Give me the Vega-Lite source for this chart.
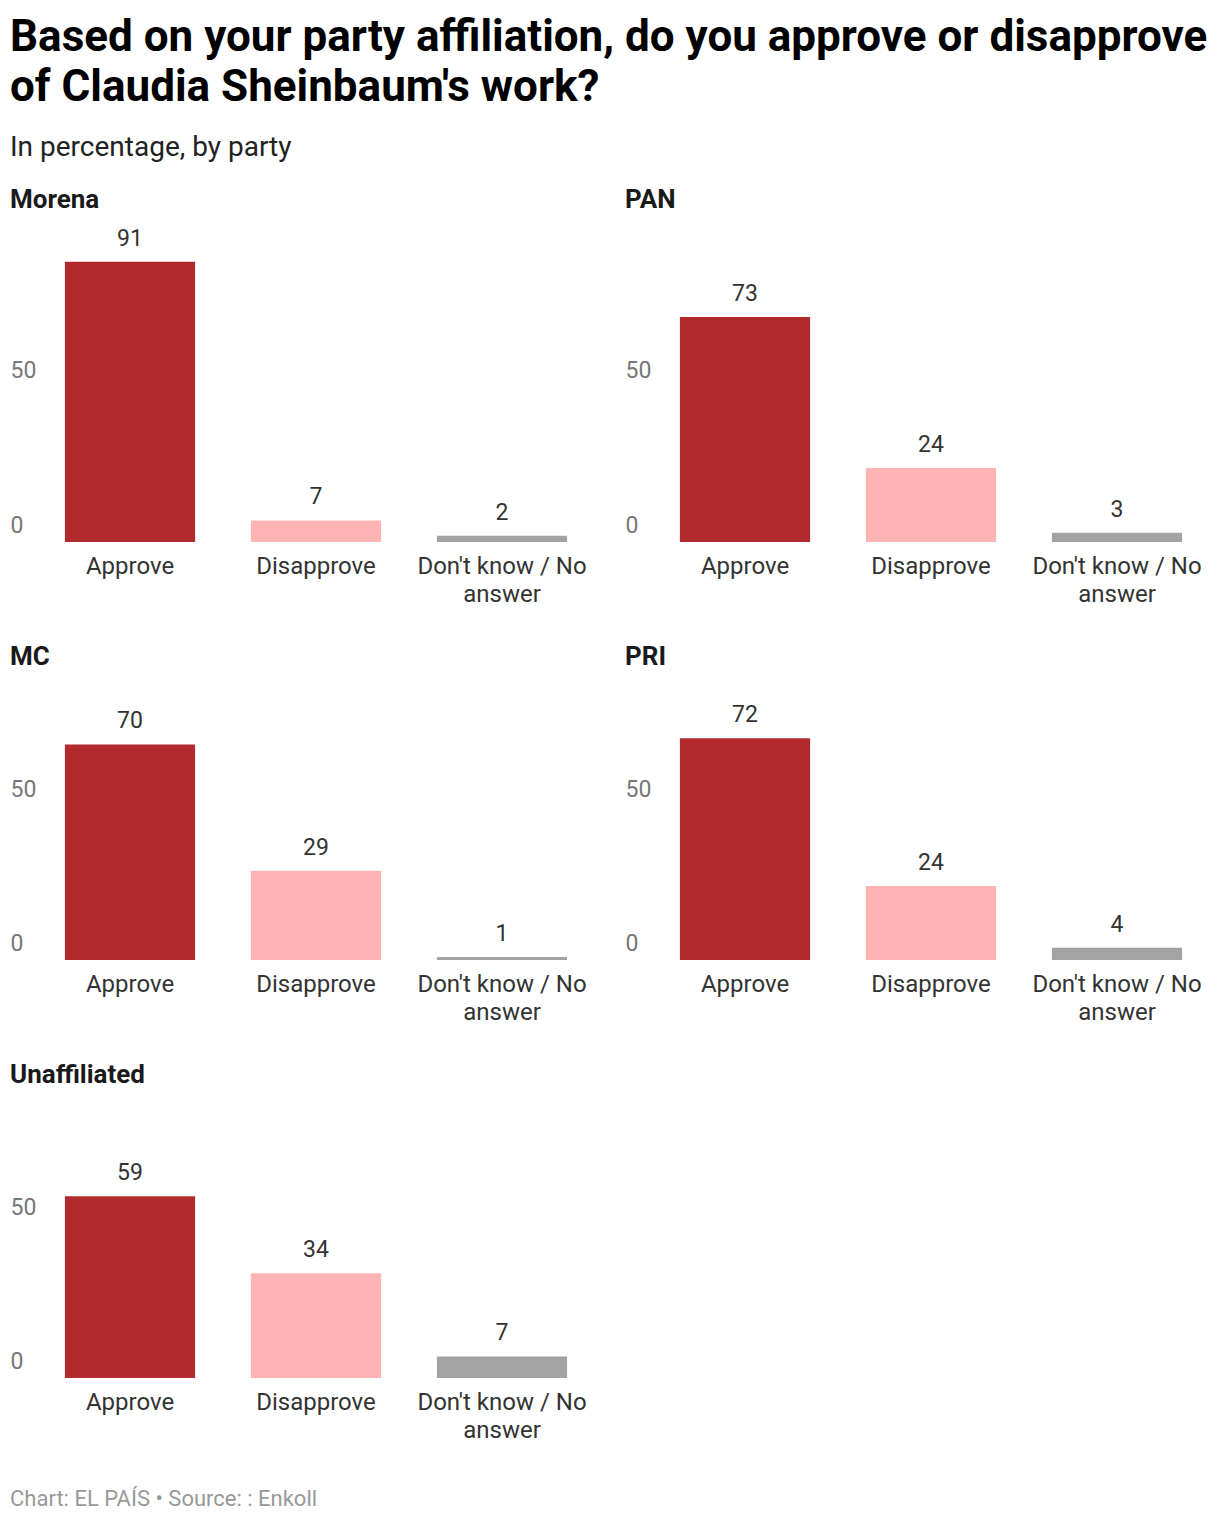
{
  "$schema": "https://vega.github.io/schema/vega-lite/v6.json",
  "padding": {"left": 10, "right": 10, "top": 16, "bottom": 10},
  "background": "white",
  "title": {
    "text": ["Based on your party affiliation, do you approve or disapprove", "of Claudia Sheinbaum's work?"],
    "subtitle": "In percentage, by party",
    "anchor": "start",
    "font": "Roboto",
    "fontSize": 44,
    "fontWeight": "bold",
    "lineHeight": 50,
    "color": "#000",
    "subtitleFont": "Roboto",
    "subtitleFontSize": 28,
    "subtitleColor": "#222",
    "subtitlePadding": 24,
    "offset": 25
  },
  "data": {
    "values": [
      {"party": "Morena", "answer": "Approve", "pct": 91},
      {"party": "Morena", "answer": "Disapprove", "pct": 7},
      {"party": "Morena", "answer": "Don't know / No answer", "pct": 2},
      {"party": "PAN", "answer": "Approve", "pct": 73},
      {"party": "PAN", "answer": "Disapprove", "pct": 24},
      {"party": "PAN", "answer": "Don't know / No answer", "pct": 3},
      {"party": "MC", "answer": "Approve", "pct": 70},
      {"party": "MC", "answer": "Disapprove", "pct": 29},
      {"party": "MC", "answer": "Don't know / No answer", "pct": 1},
      {"party": "PRI", "answer": "Approve", "pct": 72},
      {"party": "PRI", "answer": "Disapprove", "pct": 24},
      {"party": "PRI", "answer": "Don't know / No answer", "pct": 4},
      {"party": "Unaffiliated", "answer": "Approve", "pct": 59},
      {"party": "Unaffiliated", "answer": "Disapprove", "pct": 34},
      {"party": "Unaffiliated", "answer": "Don't know / No answer", "pct": 7}
    ]
  },
  "config": {
    "view": {"stroke": null},
    "font": "Roboto",
    "title": {"anchor": "start", "font": "Roboto", "fontSize": 26, "fontWeight": "bold", "color": "#1a1a1a", "offset": 20}
  },
  "spacing": 38,
  "vconcat": [
    {
      "spacing": 30,
      "hconcat": [
        {
          "title": {"text": "Morena", "offset": 8},
          "width": 585, "height": 321,
          "transform": [{"filter": "datum.party == 'Morena'"}],
          "encoding": {
            "x": {"field": "answer", "type": "nominal", "sort": null, "title": null,
              "scale": {"range": [27, 585], "paddingInner": 0.3, "paddingOuter": 0.15},
              "axis": {"domain": false, "ticks": false, "labelPadding": 12, "labelFontSize": 24, "labelColor": "#333", "labelAngle": 0, "labelLineHeight": 28, "labelLimit": 300,
                "labelExpr": "datum.label == 'Approve' || datum.label == 'Disapprove' ? datum.label : [\"Don't know / No\", 'answer']"}},
            "y": {"field": "pct", "type": "quantitative", "title": null,
              "scale": {"domain": [0, 104.2], "nice": false},
              "axis": {"values": [0, 50], "grid": false, "domain": false, "ticks": false, "tickSize": 0, "labelPadding": 0, "labelAlign": "left", "labelBaseline": "alphabetic", "labelOffset": -10, "labelFontSize": 23, "labelColor": "#777"}}
          },
          "layer": [
            {"data": {"values": [{}]}, "mark": {"type": "rule", "color": "#d9d9d9", "strokeWidth": 1}, "encoding": {"y": {"datum": 50}}},
            {"mark": {"type": "bar"}, "encoding": {"color": {"field": "answer", "type": "nominal", "legend": null, "scale": {"domain": ["Approve", "Disapprove", "Don't know / No answer"], "range": ["#b22a2e", "#ffb3b3", "#a3a3a3"]}}}},
            {"mark": {"type": "text", "baseline": "alphabetic", "dy": -16, "fontSize": 23, "color": "#333"}, "encoding": {"text": {"field": "pct", "type": "quantitative"}}},
            {"data": {"values": [{}]}, "mark": {"type": "rule", "color": "#1a1a1a", "strokeWidth": 2}, "encoding": {"y": {"datum": 0}}}
          ]
        },
        {
          "title": {"text": "PAN", "offset": 8},
          "width": 585, "height": 321,
          "transform": [{"filter": "datum.party == 'PAN'"}],
          "encoding": {
            "x": {"field": "answer", "type": "nominal", "sort": null, "title": null,
              "scale": {"range": [27, 585], "paddingInner": 0.3, "paddingOuter": 0.15},
              "axis": {"domain": false, "ticks": false, "labelPadding": 12, "labelFontSize": 24, "labelColor": "#333", "labelAngle": 0, "labelLineHeight": 28, "labelLimit": 300,
                "labelExpr": "datum.label == 'Approve' || datum.label == 'Disapprove' ? datum.label : [\"Don't know / No\", 'answer']"}},
            "y": {"field": "pct", "type": "quantitative", "title": null,
              "scale": {"domain": [0, 104.2], "nice": false},
              "axis": {"values": [0, 50], "grid": false, "domain": false, "ticks": false, "tickSize": 0, "labelPadding": 0, "labelAlign": "left", "labelBaseline": "alphabetic", "labelOffset": -10, "labelFontSize": 23, "labelColor": "#777"}}
          },
          "layer": [
            {"data": {"values": [{}]}, "mark": {"type": "rule", "color": "#d9d9d9", "strokeWidth": 1}, "encoding": {"y": {"datum": 50}}},
            {"mark": {"type": "bar"}, "encoding": {"color": {"field": "answer", "type": "nominal", "legend": null, "scale": {"domain": ["Approve", "Disapprove", "Don't know / No answer"], "range": ["#b22a2e", "#ffb3b3", "#a3a3a3"]}}}},
            {"mark": {"type": "text", "baseline": "alphabetic", "dy": -16, "fontSize": 23, "color": "#333"}, "encoding": {"text": {"field": "pct", "type": "quantitative"}}},
            {"data": {"values": [{}]}, "mark": {"type": "rule", "color": "#1a1a1a", "strokeWidth": 2}, "encoding": {"y": {"datum": 0}}}
          ]
        }
      ]
    },
    {
      "spacing": 30,
      "hconcat": [
        {
          "title": "MC",
          "width": 585, "height": 270,
          "transform": [{"filter": "datum.party == 'MC'"}],
          "encoding": {
            "x": {"field": "answer", "type": "nominal", "sort": null, "title": null,
              "scale": {"range": [27, 585], "paddingInner": 0.3, "paddingOuter": 0.15},
              "axis": {"domain": false, "ticks": false, "labelPadding": 12, "labelFontSize": 24, "labelColor": "#333", "labelAngle": 0, "labelLineHeight": 28, "labelLimit": 300,
                "labelExpr": "datum.label == 'Approve' || datum.label == 'Disapprove' ? datum.label : [\"Don't know / No\", 'answer']"}},
            "y": {"field": "pct", "type": "quantitative", "title": null,
              "scale": {"domain": [0, 87.7], "nice": false},
              "axis": {"values": [0, 50], "grid": false, "domain": false, "ticks": false, "tickSize": 0, "labelPadding": 0, "labelAlign": "left", "labelBaseline": "alphabetic", "labelOffset": -10, "labelFontSize": 23, "labelColor": "#777"}}
          },
          "layer": [
            {"data": {"values": [{}]}, "mark": {"type": "rule", "color": "#d9d9d9", "strokeWidth": 1}, "encoding": {"y": {"datum": 50}}},
            {"mark": {"type": "bar"}, "encoding": {"color": {"field": "answer", "type": "nominal", "legend": null, "scale": {"domain": ["Approve", "Disapprove", "Don't know / No answer"], "range": ["#b22a2e", "#ffb3b3", "#a3a3a3"]}}}},
            {"mark": {"type": "text", "baseline": "alphabetic", "dy": -16, "fontSize": 23, "color": "#333"}, "encoding": {"text": {"field": "pct", "type": "quantitative"}}},
            {"data": {"values": [{}]}, "mark": {"type": "rule", "color": "#1a1a1a", "strokeWidth": 2}, "encoding": {"y": {"datum": 0}}}
          ]
        },
        {
          "title": "PRI",
          "width": 585, "height": 270,
          "transform": [{"filter": "datum.party == 'PRI'"}],
          "encoding": {
            "x": {"field": "answer", "type": "nominal", "sort": null, "title": null,
              "scale": {"range": [27, 585], "paddingInner": 0.3, "paddingOuter": 0.15},
              "axis": {"domain": false, "ticks": false, "labelPadding": 12, "labelFontSize": 24, "labelColor": "#333", "labelAngle": 0, "labelLineHeight": 28, "labelLimit": 300,
                "labelExpr": "datum.label == 'Approve' || datum.label == 'Disapprove' ? datum.label : [\"Don't know / No\", 'answer']"}},
            "y": {"field": "pct", "type": "quantitative", "title": null,
              "scale": {"domain": [0, 87.7], "nice": false},
              "axis": {"values": [0, 50], "grid": false, "domain": false, "ticks": false, "tickSize": 0, "labelPadding": 0, "labelAlign": "left", "labelBaseline": "alphabetic", "labelOffset": -10, "labelFontSize": 23, "labelColor": "#777"}}
          },
          "layer": [
            {"data": {"values": [{}]}, "mark": {"type": "rule", "color": "#d9d9d9", "strokeWidth": 1}, "encoding": {"y": {"datum": 50}}},
            {"mark": {"type": "bar"}, "encoding": {"color": {"field": "answer", "type": "nominal", "legend": null, "scale": {"domain": ["Approve", "Disapprove", "Don't know / No answer"], "range": ["#b22a2e", "#ffb3b3", "#a3a3a3"]}}}},
            {"mark": {"type": "text", "baseline": "alphabetic", "dy": -16, "fontSize": 23, "color": "#333"}, "encoding": {"text": {"field": "pct", "type": "quantitative"}}},
            {"data": {"values": [{}]}, "mark": {"type": "rule", "color": "#1a1a1a", "strokeWidth": 2}, "encoding": {"y": {"datum": 0}}}
          ]
        }
      ]
    },
    {
      "spacing": 30,
      "title": {"text": "Chart: EL PAÍS • Source: : Enkoll", "orient": "bottom", "anchor": "start", "fontSize": 22, "fontWeight": "normal", "color": "#999", "offset": 47},
      "hconcat": [
        {
          "title": "Unaffiliated",
          "width": 585, "height": 270,
          "transform": [{"filter": "datum.party == 'Unaffiliated'"}],
          "encoding": {
            "x": {"field": "answer", "type": "nominal", "sort": null, "title": null,
              "scale": {"range": [27, 585], "paddingInner": 0.3, "paddingOuter": 0.15},
              "axis": {"domain": false, "ticks": false, "labelPadding": 12, "labelFontSize": 24, "labelColor": "#333", "labelAngle": 0, "labelLineHeight": 28, "labelLimit": 300,
                "labelExpr": "datum.label == 'Approve' || datum.label == 'Disapprove' ? datum.label : [\"Don't know / No\", 'answer']"}},
            "y": {"field": "pct", "type": "quantitative", "title": null,
              "scale": {"domain": [0, 87.7], "nice": false},
              "axis": {"values": [0, 50], "grid": false, "domain": false, "ticks": false, "tickSize": 0, "labelPadding": 0, "labelAlign": "left", "labelBaseline": "alphabetic", "labelOffset": -10, "labelFontSize": 23, "labelColor": "#777"}}
          },
          "layer": [
            {"data": {"values": [{}]}, "mark": {"type": "rule", "color": "#d9d9d9", "strokeWidth": 1}, "encoding": {"y": {"datum": 50}}},
            {"mark": {"type": "bar"}, "encoding": {"color": {"field": "answer", "type": "nominal", "legend": null, "scale": {"domain": ["Approve", "Disapprove", "Don't know / No answer"], "range": ["#b22a2e", "#ffb3b3", "#a3a3a3"]}}}},
            {"mark": {"type": "text", "baseline": "alphabetic", "dy": -16, "fontSize": 23, "color": "#333"}, "encoding": {"text": {"field": "pct", "type": "quantitative"}}},
            {"data": {"values": [{}]}, "mark": {"type": "rule", "color": "#1a1a1a", "strokeWidth": 2}, "encoding": {"y": {"datum": 0}}}
          ]
        }
      ]
    }
  ]
}
